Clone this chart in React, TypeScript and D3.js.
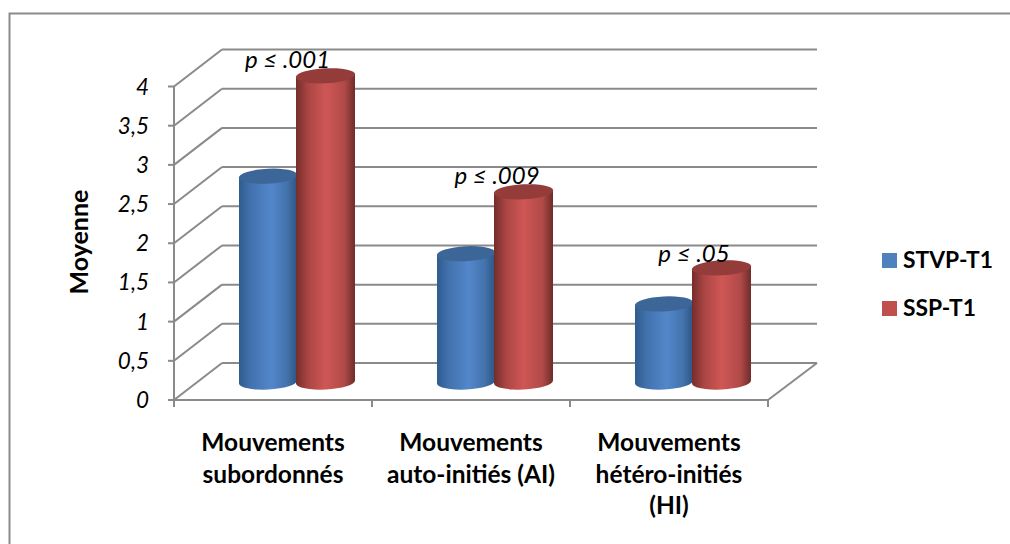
import React from "react";
import * as d3 from "d3";

const categories = ["Mouvements|subordonnés", "Mouvements|auto-initiés (AI)", "Mouvements|hétéro-initiés|(HI)"];
const seriesNames = ["STVP-T1", "SSP-T1"];
const stvp = [2.62, 1.63, 0.99];
const ssp = [3.9, 2.42, 1.45];
const pLabels = ["p ≤ .001", "p ≤ .009", "p ≤ .05"];
const yTicks = [0, 0.5, 1, 1.5, 2, 2.5, 3, 3.5, 4];
const yTickLabels = ["0", "0,5", "1", "1,5", "2", "2,5", "3", "3,5", "4"];

const W = 1010, H = 544;
const font = "Lato, 'Open Sans', sans-serif";
const grid = "#8a8a8a";
const depthX = 48, depthY = 37;
const y = d3.scaleLinear().domain([0, 4]).range([400, 86.5]);
const x = d3.scaleBand<number>().domain([0, 1, 2]).range([174, 768]);
const pLabelPos = [[287.5, 68], [497, 184], [694, 262]];

function Cylinder({ cx0, cx1, value, fill, top }: { cx0: number; cx1: number; value: number; fill: string; top: string }) {
  const rx = (cx1 - cx0) / 2, ry = 7.5, tilt = 1.5;
  const yb = y(0) - depthY / 2 + 0.5;
  const yt = y(value) - depthY / 2;
  const cx = (cx0 + cx1) / 2;
  const angle = (Math.atan2(-tilt * 2, rx * 2) * 180) / Math.PI;
  return (
    <g>
      <path
        d={`M${cx0},${yt + tilt} L${cx0},${yb + tilt} A${rx},${ry} ${angle} 0 0 ${cx1},${yb - tilt} L${cx1},${yt - tilt} Z`}
        fill={fill}
      />
      <ellipse cx={cx} cy={yt} rx={rx + 0.2} ry={ry} fill={top} transform={`rotate(${angle} ${cx} ${yt})`} />
    </g>
  );
}

export default function App() {
  const bw = x.bandwidth();
  const barW = 58;
  return (
    <svg width={W} height={H} viewBox={`0 0 ${W} ${H}`} style={{ position: "absolute", left: 0, top: 0, display: "block", background: "#fff" }}>
      <defs>
        <linearGradient id="blueG" x1="0" x2="1" y1="0" y2="0">
          <stop offset="0" stopColor="#2f5c8f" />
          <stop offset="0.2" stopColor="#4272ad" />
          <stop offset="0.55" stopColor="#5387cb" />
          <stop offset="0.82" stopColor="#4473ad" />
          <stop offset="1" stopColor="#2c5684" />
        </linearGradient>
        <linearGradient id="redG" x1="0" x2="1" y1="0" y2="0">
          <stop offset="0" stopColor="#742d2b" />
          <stop offset="0.2" stopColor="#a94543" />
          <stop offset="0.5" stopColor="#cf5755" />
          <stop offset="0.82" stopColor="#b04a48" />
          <stop offset="1" stopColor="#6f2c2a" />
        </linearGradient>
      </defs>

      <path d={`M9.5,${H} L9.5,13.5 L${W},13.5`} fill="none" stroke="#8c8c8c" strokeWidth={2} />

      {/* walls and axes */}
      <g stroke={grid} strokeWidth={2} fill="none">
        {yTicks.map((t) => (
          <g key={t}>
            <line x1={174} x2={174 + depthX} y1={y(t)} y2={y(t) - depthY} />
            <line x1={174 + depthX} x2={768 + depthX + 1} y1={y(t) - depthY} y2={y(t) - depthY} />
            <line x1={168} x2={174} y1={y(t)} y2={y(t)} />
          </g>
        ))}
        <line x1={174} x2={174} y1={y(4)} y2={407} />
        <line x1={174} x2={768} y1={y(0)} y2={y(0)} />
        <line x1={768} x2={768 + depthX + 1} y1={y(0)} y2={y(0) - depthY} />
        {[0, 1, 2].map((i) => (
          <line key={i} x1={(x(i) as number) + bw} x2={(x(i) as number) + bw} y1={400} y2={407} />
        ))}
      </g>

      {/* cylinders */}
      {categories.map((_, i) => {
        const c = (x(i) as number) + bw / 2 + depthX / 2;
        return (
          <g key={i}>
            <Cylinder cx0={c - barW} cx1={c} value={stvp[i]} fill="url(#blueG)" top="#3c6698" />
            <Cylinder cx0={c - 1} cx1={c + barW} value={ssp[i]} fill="url(#redG)" top="#943c3a" />
          </g>
        );
      })}

      {/* p labels */}
      {pLabels.map((p, i) => (
        <text key={p} x={pLabelPos[i][0]} y={pLabelPos[i][1]} textAnchor="middle" fontFamily={font} fontStyle="italic" fontSize={24} fill="#000">{p}</text>
      ))}

      {/* y tick labels */}
      {yTicks.map((t, i) => (
        <text key={t} x={149} y={y(t) + 8} textAnchor="end" fontFamily={font} fontStyle="italic" fontSize={22.5} fill="#000">{yTickLabels[i]}</text>
      ))}

      <text transform="translate(88,242) rotate(-90)" textAnchor="middle" fontFamily={font} fontWeight={700} fontSize={25} fill="#000">Moyenne</text>

      {/* category labels */}
      {categories.map((c, i) => (
        <text key={c} textAnchor="middle" fontFamily={font} fontWeight={700} fontSize={24.5} fill="#000">
          {c.split("|").map((line, j) => (
            <tspan key={j} x={(x(i) as number) + bw / 2} y={451 + j * 31.5}>{line}</tspan>
          ))}
        </text>
      ))}

      {/* legend */}
      {seriesNames.map((s, i) => (
        <g key={s}>
          <rect x={882} y={253 + i * 48} width={15} height={15} fill={i === 0 ? "#4f81bd" : "#c0504d"} />
          <text x={903} y={268 + i * 48} fontFamily={font} fontWeight={700} fontSize={22.8} fill="#000">{s}</text>
        </g>
      ))}
    </svg>
  );
}
